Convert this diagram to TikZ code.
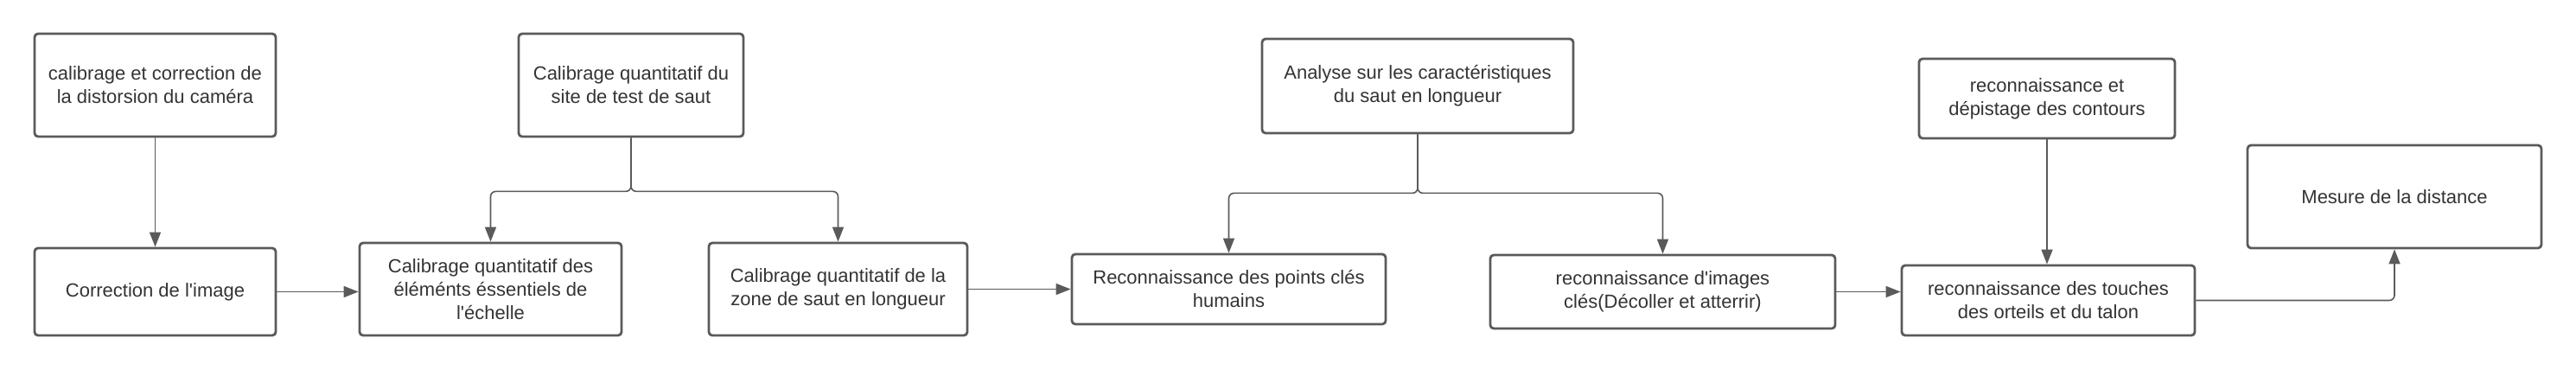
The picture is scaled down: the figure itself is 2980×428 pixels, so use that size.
\documentclass[tikz,border=0pt]{standalone}
\usepackage{fontspec}
\setmainfont{Liberation Sans}
\usetikzlibrary{arrows.meta}

\definecolor{linegray}{HTML}{5A5A5A}
\definecolor{textgray}{HTML}{333333}

\tikzset{
  box/.style={draw=linegray, line width=1.4pt, rounded corners=2pt, align=center,
    inner sep=0pt, text=textgray, font=\fontsize{11}{13.5}\selectfont},
  link/.style={draw=linegray, line width=0.8pt, rounded corners=3pt,
    -{Triangle[length=8.5pt,width=6.5pt]}}
}

\begin{document}
\begin{tikzpicture}[x=0.5pt,y=0.5pt,yscale=-1,xscale=1]
\useasboundingbox (0,0) rectangle (2980,428);

% Boxes, top row
\node [box, minimum width=139.5pt, minimum height=59.5pt] (calib) at (179.5,98.5) {calibrage et correction de\\la distorsion du caméra};
\node [box, minimum width=130pt, minimum height=59.5pt] (site) at (730,98.5) {Calibrage quantitatif du\\site de test de saut};
\node [box, minimum width=180pt, minimum height=54.5pt] (analyse) at (1640,99.5) {Analyse sur les caractéristiques\\du saut en longueur};
\node [box, minimum width=148pt, minimum height=46pt] (contours) at (2368,114) {reconnaissance et\\dépistage des contours};
\node [box, minimum width=170pt, minimum height=59.5pt] (mesure) at (2770,227.5) {Mesure de la distance};

% Boxes, bottom row
\node [box, minimum width=139.5pt, minimum height=50.5pt] (correct) at (179.5,337.5) {Correction de l\textquotesingle image};
\node [box, minimum width=151.5pt, minimum height=53.5pt] (echelle) at (567.5,334.5) {Calibrage quantitatif des\\éléménts éssentiels de\\l\textquotesingle échelle};
\node [box, minimum width=149.5pt, minimum height=53.5pt] (zone) at (969.5,334.5) {Calibrage quantitatif de la\\zone de saut en longueur};
\node [box, minimum width=181.5pt, minimum height=40.5pt] (points) at (1421.5,334.5) {Reconnaissance des points clés\\humains};
\node [box, minimum width=199.5pt, minimum height=42.5pt] (images) at (1923.5,337.5) {reconnaissance d\textquotesingle images\\clés(Décoller et atterrir)};
\node [box, minimum width=169.5pt, minimum height=40.5pt] (touches) at (2369.5,347.5) {reconnaissance des touches\\des orteils et du talon};

% Connectors
\draw [link] (calib) -- (correct);
\draw [link] (correct.east) -- (correct.east -| echelle.west);
\draw [link] (site.south) -- ++(0,62) -| (echelle.north);
\draw [link] (site.south) -- ++(0,62) -| (zone.north);
\draw [link] (zone.east) -- (zone.east -| points.west);
\draw [link] (analyse.south) -- ++(0,68) -| (points.north);
\draw [link] (analyse.south) -- ++(0,68) -| (images.north);
\draw [link] (images.east) -- (images.east -| touches.west);
\draw [link] (contours.south) -- (contours.south |- touches.north);
\draw [link] (touches.east) -| (mesure.south);

\end{tikzpicture}
\end{document}
